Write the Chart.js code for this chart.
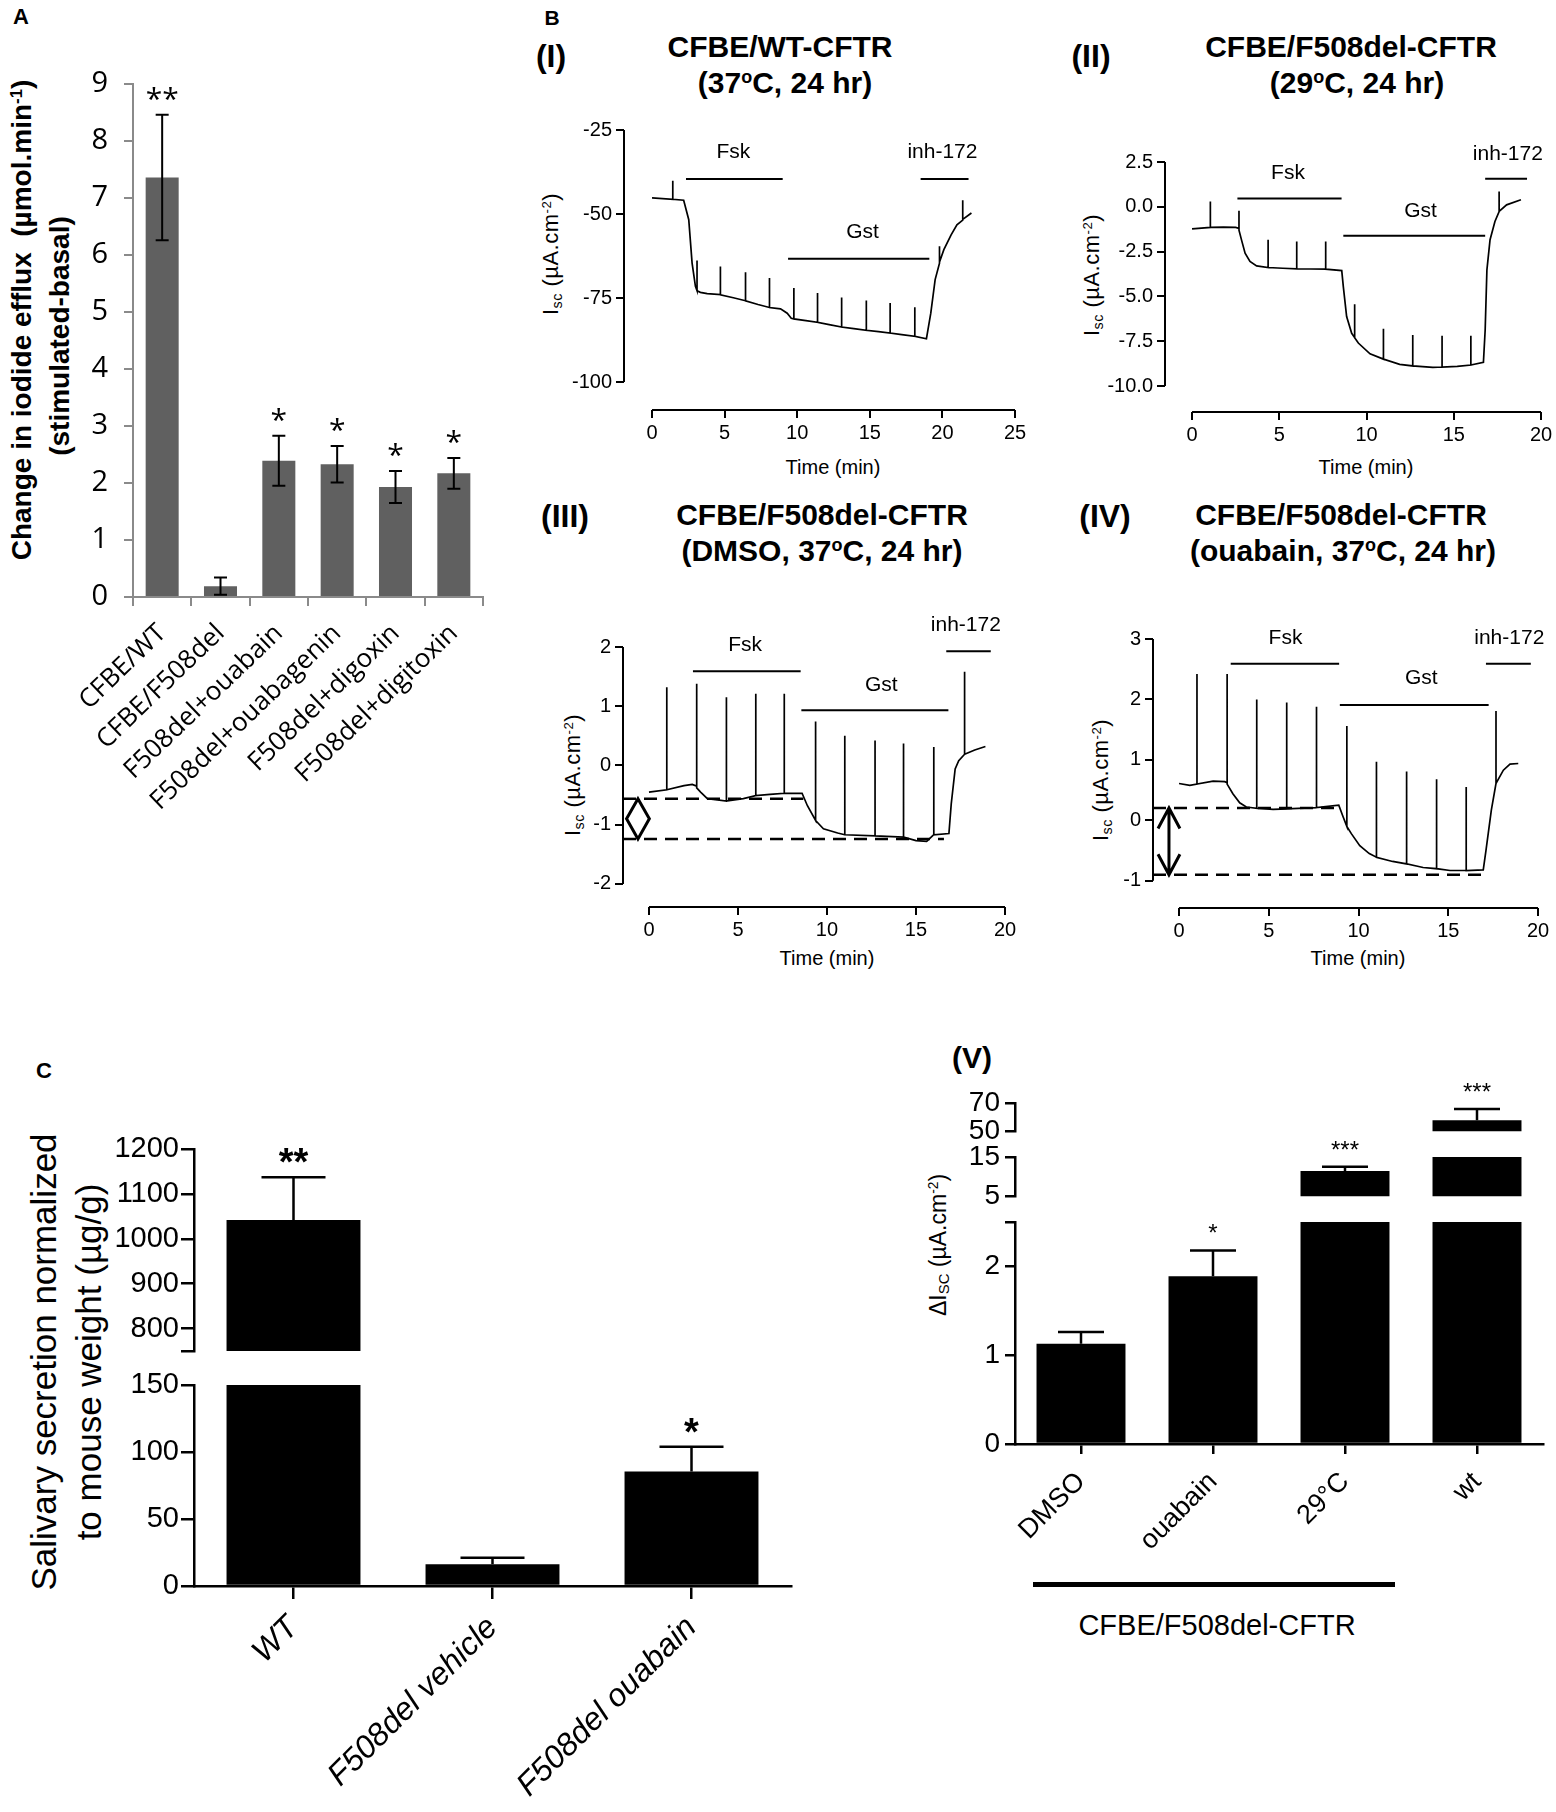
<!DOCTYPE html>
<html>
<head>
<meta charset="utf-8">
<script src="https://cdn.jsdelivr.net/npm/chart.js@4.4.1/dist/chart.umd.min.js"></script>
<style>
  body { margin: 0; background: #fff; }
  #fig { position: relative; width: 1556px; height: 1812px; overflow: hidden; background: #fff; }
  #fig canvas { position: absolute; }
  .t { position: absolute; transform: translate(-50%, -50%); white-space: nowrap; line-height: 1;
       font-family: "Liberation Sans", Arial, Helvetica, sans-serif; color: #000; }
  .r { transform: translate(-50%, -50%) rotate(-90deg); }
  .b { font-weight: bold; }
  .isc { font-size: 22px; letter-spacing: 0.5px; }
  sup { font-size: 0.6em; vertical-align: 0.55em; line-height: 0; }
  sub { font-size: 0.65em; vertical-align: -0.25em; line-height: 0; }
  .rule { position: absolute; background: #000; }
</style>
</head>
<body>
<div id="fig">
  <!-- panel A -->
  <div class="t b" style="left:21px;top:17px;font-size:22px">A</div>
  <div class="t b r" style="left:22px;top:320px;font-size:28px">Change in iodide efflux&nbsp;&nbsp;(µmol.min<sup>-1</sup>)</div>
  <div class="t b r" style="left:60px;top:336px;font-size:28px">(stimulated-basal)</div>

  <!-- panel B -->
  <div class="t b" style="left:552px;top:17px;font-size:21px">B</div>
  <div class="t b" style="left:551px;top:56px;font-size:32px">(I)</div>
  <div class="t b" style="left:780px;top:47px;font-size:30px">CFBE/WT-CFTR</div>
  <div class="t b" style="left:785px;top:83px;font-size:30px">(37<sup>o</sup>C, 24 hr)</div>
  <div class="t b" style="left:1091px;top:56px;font-size:32px">(II)</div>
  <div class="t b" style="left:1351px;top:47px;font-size:30px">CFBE/F508del-CFTR</div>
  <div class="t b" style="left:1357px;top:83px;font-size:30px">(29<sup>o</sup>C, 24 hr)</div>
  <div class="t b" style="left:565px;top:516px;font-size:32px">(III)</div>
  <div class="t b" style="left:822px;top:515px;font-size:30px">CFBE/F508del-CFTR</div>
  <div class="t b" style="left:822px;top:551px;font-size:30px">(DMSO, 37<sup>o</sup>C, 24 hr)</div>
  <div class="t b" style="left:1105px;top:516px;font-size:32px">(IV)</div>
  <div class="t b" style="left:1341px;top:515px;font-size:30px">CFBE/F508del-CFTR</div>
  <div class="t b" style="left:1343px;top:551px;font-size:30px">(ouabain, 37<sup>o</sup>C, 24 hr)</div>

  <div class="t r isc" style="left:551px;top:254px">I<sub>sc</sub> (µA.cm<sup>-2</sup>)</div>
  <div class="t r isc" style="left:1092px;top:275px">I<sub>sc</sub> (µA.cm<sup>-2</sup>)</div>
  <div class="t r isc" style="left:573px;top:775px">I<sub>sc</sub> (µA.cm<sup>-2</sup>)</div>
  <div class="t r isc" style="left:1101px;top:780px">I<sub>sc</sub> (µA.cm<sup>-2</sup>)</div>
  <div class="t" style="left:833px;top:467px;font-size:20px">Time (min)</div>
  <div class="t" style="left:1366px;top:467px;font-size:20px">Time (min)</div>
  <div class="t" style="left:827px;top:958px;font-size:20px">Time (min)</div>
  <div class="t" style="left:1358px;top:958px;font-size:20px">Time (min)</div>

  <!-- panel C -->
  <div class="t b" style="left:44px;top:1071px;font-size:22px">C</div>
  <div class="t r" style="left:43px;top:1362px;font-size:35px">Salivary secretion normalized</div>
  <div class="t r" style="left:88px;top:1362px;font-size:35px">to mouse weight (µg/g)</div>

  <!-- panel V -->
  <div class="t b" style="left:972px;top:1058px;font-size:30px">(V)</div>
  <div class="t r" style="left:938px;top:1245px;font-size:23px">ΔI<sub>SC</sub> (µA.cm<sup>-2</sup>)</div>
  <div class="rule" style="left:1033px;top:1582px;width:362px;height:5px"></div>
  <div class="t" style="left:1217px;top:1625px;font-size:29px">CFBE/F508del-CFTR</div>
</div>

<script>
// ---------- data ----------
// A: iodide efflux
const effluxCats = ["CFBE/WT", "CFBE/F508del", "F508del+ouabain", "F508del+ouabagenin", "F508del+digoxin", "F508del+digitoxin"];
const effluxMean = [7.36, 0.19, 2.39, 2.33, 1.93, 2.17];
const effluxErr = [1.1, 0.15, 0.44, 0.32, 0.28, 0.27];
const effluxStars = ["**", "", "*", "*", "*", "*"];
const effluxTicks = [0, 1, 2, 3, 4, 5, 6, 7, 8, 9];

// B: short-circuit current traces, [time (min), Isc]
const traceI = [[0,-45.2],[1.43,-45.6],[1.43,-40.1],[1.43,-45.6],[2.18,-45.9],[2.53,-51.7],[2.76,-64.6],[2.99,-71.5],[3.1,-72.8],[3.1,-63.8],[3.1,-72.8],
  [3.33,-73.3],[3.8,-73.7],[4.71,-74],[4.71,-65.6],[4.71,-74],[5.6,-74.9],[6.44,-75.8],[6.44,-67.3],[6.44,-75.8],[7.3,-76.9],[8.09,-77.8],[8.09,-69],[8.09,-77.8],
  [8.85,-78.2],[9.31,-79.5],[9.59,-81],[9.77,-81.2],[9.77,-72],[9.77,-81.2],[10.6,-81.7],[11.4,-82.2],[11.4,-73.5],[11.4,-82.2],[12.2,-82.9],
  [13.06,-83.6],[13.06,-74.8],[13.06,-83.6],[13.9,-84.1],[14.76,-84.6],[14.76,-75.7],[14.76,-84.6],[15.6,-85],[16.4,-85.4],[16.4,-76.5],[16.4,-85.4],
  [17.2,-85.9],[18.1,-86.4],[18.1,-77.7],[18.1,-86.4],[18.9,-87.1],[19.2,-79.5],[19.5,-69.5],[19.8,-64.6],[19.8,-59.6],[19.8,-64.3],[20.1,-60.6],
  [20.6,-56.2],[21.0,-53.2],[21.4,-51.8],[21.4,-45.9],[21.4,-51.6],[22.0,-49.7]];
const traceII = [[0,-1.23],[1.05,-1.15],[1.05,0.3],[1.05,-1.15],[1.8,-1.13],[2.5,-1.15],[2.69,-1.2],[2.69,-0.22],[2.69,-1.3],[2.85,-1.9],[3.04,-2.59],
  [3.32,-3.05],[3.7,-3.3],[4.36,-3.39],[4.36,-1.84],[4.36,-3.39],[5.2,-3.43],[6.0,-3.46],[6.0,-1.94],[6.0,-3.46],[6.8,-3.47],[7.66,-3.48],[7.66,-1.94],
  [7.66,-3.48],[8.58,-3.56],[8.67,-4.45],[8.86,-6.12],[9.15,-7.06],[9.32,-7.3],[9.32,-5.44],[9.32,-7.3],[9.53,-7.6],[10.2,-8.2],[10.97,-8.5],[10.97,-6.8],
  [10.97,-8.5],[11.9,-8.79],[12.65,-8.88],[12.65,-7.15],[12.65,-8.88],[13.8,-8.96],[14.33,-8.94],[14.33,-7.2],[14.33,-8.94],[15.2,-8.9],[15.98,-8.83],
  [15.98,-7.19],[15.98,-8.83],[16.7,-8.68],[16.8,-6.87],[16.9,-3.52],[17.08,-1.84],[17.36,-0.82],[17.6,-0.26],[17.6,0.86],[17.6,-0.26],[18.03,0.11],[18.85,0.39]];
const traceIII = [[0,-0.45],[1.0,-0.41],[1.0,1.32],[1.0,-0.41],[1.97,-0.34],[2.43,-0.32],[2.68,-0.35],[2.68,1.38],[2.68,-0.38],[2.9,-0.45],[3.28,-0.56],
  [4.35,-0.6],[4.35,1.15],[4.35,-0.6],[5.3,-0.56],[6.0,-0.51],[6.0,1.21],[6.0,-0.51],[6.8,-0.49],[7.6,-0.47],[7.6,1.21],[7.6,-0.47],[8.6,-0.47],
  [8.9,-0.68],[9.36,-0.93],[9.36,0.74],[9.36,-0.93],[9.8,-1.07],[10.6,-1.14],[11.0,-1.17],[11.0,0.5],[11.0,-1.17],[12.7,-1.19],[12.7,0.42],[12.7,-1.19],
  [14.3,-1.21],[14.3,0.37],[14.3,-1.21],[15.0,-1.27],[15.6,-1.28],[16.0,-1.17],[16.0,0.31],[16.0,-1.17],[16.85,-1.15],[16.98,-0.65],[17.2,-0.06],
  [17.4,0.08],[17.73,0.19],[17.73,1.58],[17.73,0.19],[18.3,0.26],[18.9,0.32]];
const traceIV = [[0,0.61],[0.6,0.58],[1.0,0.6],[1.0,2.42],[1.0,0.6],[1.9,0.65],[2.55,0.64],[2.68,0.62],[2.68,2.42],[2.68,0.6],[3.0,0.44],[3.38,0.29],
  [3.75,0.22],[4.33,0.2],[4.33,2.0],[4.33,0.2],[5.24,0.18],[6.0,0.19],[6.0,1.95],[6.0,0.19],[7.66,0.21],[7.66,1.88],[7.66,0.21],[8.9,0.25],[9.14,0.06],
  [9.35,-0.1],[9.35,1.56],[9.35,-0.1],[9.6,-0.22],[10.07,-0.42],[10.6,-0.55],[11.0,-0.61],[11.0,0.97],[11.0,-0.61],[11.9,-0.68],[12.68,-0.72],[12.68,0.81],
  [12.68,-0.72],[13.6,-0.78],[14.35,-0.8],[14.35,0.68],[14.35,-0.8],[15.1,-0.83],[16.0,-0.83],[16.0,0.55],[16.0,-0.83],[16.95,-0.82],[17.1,-0.5],
  [17.4,0.17],[17.66,0.61],[17.66,1.81],[17.66,0.61],[18.07,0.83],[18.44,0.93],[18.9,0.94]];

// drug application bars: [label, start, end, level, labelTime, labelLevel]
const drugsI = [["Fsk", 2.34, 9.0, -39.6, 5.6, -31.5], ["Gst", 9.37, 19.1, -63.3, 14.5, -55.3], ["inh-172", 18.5, 21.8, -39.6, 20.0, -31.5]];
const drugsII = [["Fsk", 2.6, 8.57, 0.47, 5.5, 1.88], ["Gst", 8.67, 16.8, -1.62, 13.1, -0.22], ["inh-172", 16.8, 19.2, 1.56, 18.1, 2.96]];
const drugsIII = [["Fsk", 2.47, 8.52, 1.59, 5.4, 2.03], ["Gst", 8.56, 16.82, 0.93, 13.05, 1.35], ["inh-172", 16.7, 19.2, 1.93, 17.8, 2.37]];
const drugsIV = [["Fsk", 2.88, 8.92, 2.59, 5.93, 3.02], ["Gst", 8.96, 17.25, 1.91, 13.5, 2.35], ["inh-172", 17.1, 19.6, 2.59, 18.4, 3.02]];
// dashed reference levels: [level, end time]
const dashIII = [[-0.563, 8.67], [-1.24, 16.57]];
const dashIV = [[0.205, 9.05], [-0.9, 16.95]];

const ticksI = { x: [0, 5, 10, 15, 20, 25], y: [-100, -75, -50, -25] };
const ticksII = { x: [0, 5, 10, 15, 20], y: [-10, -7.5, -5, -2.5, 0, 2.5] };
const ticksIII = { x: [0, 5, 10, 15, 20], y: [-2, -1, 0, 1, 2] };
const ticksIV = { x: [0, 5, 10, 15, 20], y: [-1, 0, 1, 2, 3] };

// C: salivary secretion
const salivaCats = ["WT", "F508del vehicle", "F508del ouabain"];
const salivaMean = [1042, 16.3, 85.4];
const salivaErr = [95, 4.7, 18.6];
const salivaStars = ["**", "", "*"];
const salivaTicksHigh = [750, 800, 900, 1000, 1100, 1200];
const salivaTicksLow = [0, 50, 100, 150];

// V: delta Isc
const dIscCats = ["DMSO", "ouabain", "29°C", "wt"];
const dIscMean = [1.13, 1.89, 11.4, 57.7];
const dIscErr = [0.13, 0.29, 1.1, 8.1];
const dIscStars = ["", "*", "***", "***"];
const dIscTicksTop = [50, 70];
const dIscTicksMid = [5, 15];
const dIscTicksLow = [0, 1, 2, 2.5];

// ---------- helpers ----------
const FONT = '"Liberation Sans", Arial, Helvetica, sans-serif';
const SOFT = '"Open Sans", "DejaVu Sans", sans-serif';
Chart.defaults.color = '#000';
Chart.defaults.font.family = FONT;
Chart.defaults.animation = false;
Chart.defaults.responsive = false;
Chart.defaults.maintainAspectRatio = false;
Chart.defaults.plugins.legend.display = false;
Chart.defaults.plugins.tooltip.enabled = false;

const fig = document.getElementById('fig');

// area = [left, top, right, bottom] of the plot area in page px; m = [top, right, bottom, left] margins
function makeCanvas(area, m) {
  const c = document.createElement('canvas');
  const w = area[2] - area[0] + m[1] + m[3];
  const h = area[3] - area[1] + m[0] + m[2];
  c.width = w; c.height = h;
  c.style.left = (area[0] - m[3]) + 'px';
  c.style.top = (area[1] - m[0]) + 'px';
  c.style.width = w + 'px';
  c.style.height = h + 'px';
  fig.appendChild(c);
  return c;
}

function fixedTicks(vals) {
  return s => { s.ticks = vals.map(v => ({ value: v })); };
}

function tracePlugin(o) {
  return {
    id: 'traceDeco',
    afterDatasetsDraw(chart) {
      const { ctx, scales: { x, y } } = chart;
      ctx.save();
      ctx.strokeStyle = '#000';
      ctx.lineWidth = 2;
      ctx.beginPath();
      ctx.moveTo(x.left, y.getPixelForValue(o.yt[0]));
      ctx.lineTo(x.left, y.getPixelForValue(o.yt[o.yt.length - 1]));
      ctx.moveTo(x.getPixelForValue(o.xt[0]), y.bottom);
      ctx.lineTo(x.getPixelForValue(o.xt[o.xt.length - 1]), y.bottom);
      ctx.stroke();

      ctx.fillStyle = '#000';
      ctx.font = '21px ' + FONT;
      ctx.textAlign = 'center';
      ctx.textBaseline = 'middle';
      o.drugs.forEach(d => ctx.fillText(d[0], x.getPixelForValue(d[4]), y.getPixelForValue(d[5])));

      if (o.arrow) {
        const a = o.arrow;
        const cx = x.getPixelForValue(a.t);
        const y1 = y.getPixelForValue(a.top), y2 = y.getPixelForValue(a.bottom);
        const hw = x.getPixelForValue(a.t + a.hw) - cx;
        ctx.lineWidth = 3;
        ctx.beginPath();
        if (a.kind === 'diamond') {
          const ym = (y1 + y2) / 2;
          ctx.moveTo(cx, y1); ctx.lineTo(cx - hw, ym); ctx.lineTo(cx, y2); ctx.lineTo(cx + hw, ym); ctx.closePath();
        } else {
          const hl = y.getPixelForValue(a.top - a.hl) - y1;
          ctx.moveTo(cx, y1); ctx.lineTo(cx, y2);
          ctx.moveTo(cx - hw, y1 + hl); ctx.lineTo(cx, y1); ctx.lineTo(cx + hw, y1 + hl);
          ctx.moveTo(cx - hw, y2 - hl); ctx.lineTo(cx, y2); ctx.lineTo(cx + hw, y2 - hl);
        }
        ctx.stroke();
      }
      ctx.restore();
    }
  };
}

function traceChart(area, m, o) {
  const cv = makeCanvas(area, m);
  const ds = [{ data: o.trace.map(p => ({ x: p[0], y: p[1] })), borderColor: '#000', borderWidth: 1.7, pointRadius: 0, tension: 0 }];
  o.drugs.forEach(d => ds.push({ data: [{ x: d[1], y: d[3] }, { x: d[2], y: d[3] }], borderColor: '#000', borderWidth: 2, pointRadius: 0 }));
  (o.dash || []).forEach(d => ds.push({ data: [{ x: o.xmin, y: d[0] }, { x: d[1], y: d[0] }], borderColor: '#000', borderWidth: 2.5, borderDash: [13, 8], pointRadius: 0 }));
  const grid = { drawOnChartArea: false, tickLength: 8, lineWidth: 2, color: '#000' };
  return new Chart(cv, {
    type: 'line',
    data: { datasets: ds },
    options: {
      layout: { padding: { top: m[0], right: m[1], bottom: 0, left: 0 } },
      scales: {
        x: {
          type: 'linear', min: o.xmin, max: o.xt[o.xt.length - 1],
          afterBuildTicks: fixedTicks(o.xt), afterFit: s => { s.height = m[2]; },
          ticks: { font: { size: 20 }, padding: 3, autoSkip: false, callback: v => String(v) },
          grid: grid, border: { display: false }
        },
        y: {
          type: 'linear', min: o.ymin, max: o.yt[o.yt.length - 1],
          afterBuildTicks: fixedTicks(o.yt), afterFit: s => { s.width = m[3]; },
          ticks: { font: { size: 20 }, padding: 4, autoSkip: false, callback: o.yfmt || (v => String(v)) },
          grid: grid, border: { display: false }
        }
      }
    },
    plugins: [tracePlugin(o)]
  });
}

function errPlugin(o) {
  return {
    id: 'errBars',
    afterDatasetsDraw(chart) {
      const { ctx, chartArea: a, scales: { y } } = chart;
      const meta = chart.getDatasetMeta(0);
      ctx.save();
      ctx.beginPath();
      ctx.rect(a.left, a.top - 2, a.right - a.left, a.bottom - a.top + 4);
      ctx.clip();
      ctx.strokeStyle = '#000';
      ctx.lineWidth = o.elw;
      o.values.forEach((v, i) => {
        const px = meta.data[i].x;
        const hi = y.getPixelForValue(v + o.errs[i]);
        const lo = y.getPixelForValue(o.both ? v - o.errs[i] : v);
        ctx.beginPath();
        ctx.moveTo(px, lo); ctx.lineTo(px, hi);
        ctx.moveTo(px - o.cap / 2, hi); ctx.lineTo(px + o.cap / 2, hi);
        if (o.both) { ctx.moveTo(px - o.cap / 2, lo); ctx.lineTo(px + o.cap / 2, lo); }
        ctx.stroke();
      });
      ctx.restore();
      if (!o.stars) return;
      ctx.save();
      ctx.fillStyle = '#000';
      ctx.font = o.starFont;
      ctx.textAlign = 'center';
      ctx.textBaseline = 'alphabetic';
      o.values.forEach((v, i) => {
        const top = v + o.errs[i];
        if (!o.stars[i] || top < o.min || top > o.max) return;
        ctx.fillText(o.stars[i], meta.data[i].x, y.getPixelForValue(top) - o.starGap);
      });
      ctx.restore();
    }
  };
}

function barChart(area, m, o) {
  const cv = makeCanvas(area, m);
  const grid = { drawOnChartArea: false, tickLength: o.tl, lineWidth: o.lw, color: o.axis, offset: o.gridOffset };
  const xScale = {
    display: o.showX,
    ticks: { font: o.xfont, minRotation: o.rot, maxRotation: o.rot, autoSkip: false, padding: o.xpad },
    grid: grid, border: { color: o.axis, width: o.lw }
  };
  if (o.showX) xScale.afterFit = s => { s.height = m[2]; };
  return new Chart(cv, {
    type: 'bar',
    data: { labels: o.labels, datasets: [{ data: o.values, backgroundColor: o.color, barPercentage: o.bp, categoryPercentage: 1, clip: 0 }] },
    options: {
      layout: { padding: { top: m[0], right: m[1], bottom: o.showX ? 0 : m[2], left: 0 } },
      scales: {
        x: xScale,
        y: {
          min: o.min, max: o.max,
          afterBuildTicks: fixedTicks(o.ticks), afterFit: s => { s.width = m[3]; },
          ticks: { font: o.yfont, padding: o.ypad, autoSkip: false, callback: v => (o.hide || []).includes(v) ? '' : String(v) },
          grid: { drawOnChartArea: false, tickLength: o.tl, lineWidth: o.lw, color: o.axis },
          border: { color: o.axis, width: o.lw }
        }
      }
    },
    plugins: [errPlugin(o)]
  });
}

// ---------- panel A ----------
barChart([133, 84, 483, 597], [40, 20, 260, 133], {
  labels: effluxCats, values: effluxMean, errs: effluxErr, both: true, cap: 13, elw: 2,
  color: '#606060', bp: 0.566, min: 0, max: 9, ticks: effluxTicks,
  showX: true, rot: 44, xfont: { family: SOFT, size: 26 }, xpad: 12, gridOffset: true,
  yfont: { family: SOFT, size: 29 }, ypad: 16, tl: 9, lw: 2, axis: '#8a8a8a',
  stars: effluxStars, starFont: '30px ' + SOFT, starGap: 6
});

// ---------- panel B ----------
traceChart([624, 130, 1015, 410], [30, 30, 40, 70], {
  trace: traceI, drugs: drugsI, xt: ticksI.x, yt: ticksI.y, xmin: -1.93, ymin: -108.3
});
traceChart([1165, 162, 1541, 412], [40, 15, 40, 70], {
  trace: traceII, drugs: drugsII, xt: ticksII.x, yt: ticksII.y, xmin: -1.55, ymin: -11.45,
  yfmt: v => v.toFixed(1)
});
traceChart([623, 647, 1005, 907], [45, 30, 40, 60], {
  trace: traceIII, drugs: drugsIII, dash: dashIII, xt: ticksIII.x, yt: ticksIII.y, xmin: -1.46, ymin: -2.39,
  arrow: { kind: 'diamond', t: -0.62, top: dashIII[0][0], bottom: dashIII[1][0], hw: 0.64 }
});
traceChart([1153, 639, 1538, 908], [40, 18, 40, 60], {
  trace: traceIV, drugs: drugsIV, dash: dashIV, xt: ticksIV.x, yt: ticksIV.y, xmin: -1.45, ymin: -1.45,
  arrow: { kind: 'double', t: -0.56, top: dashIV[0][0], bottom: dashIV[1][0], hw: 0.61, hl: 0.34 }
});

// ---------- panel C (broken axis: two stacked charts) ----------
const cCommon = {
  labels: salivaCats, values: salivaMean, errs: salivaErr, both: false, cap: 64, elw: 2.5,
  color: '#000', bp: 0.673, gridOffset: false, rot: 45,
  xfont: { size: 32, style: 'italic' }, xpad: 10, yfont: { size: 29 }, ypad: 2, tl: 13, lw: 2.5, axis: '#000',
  stars: salivaStars, starFont: 'bold 38px ' + FONT, starGap: 2
};
barChart([194, 1149, 791, 1351], [40, 30, 20, 110], Object.assign({}, cCommon, {
  min: 750, max: 1200, ticks: salivaTicksHigh, hide: [750], showX: false
}));
barChart([194, 1385, 791, 1586], [22, 30, 226, 110], Object.assign({}, cCommon, {
  min: 0, max: 150, ticks: salivaTicksLow, showX: true
}));

// ---------- panel V (broken axis: three stacked charts) ----------
const vCommon = {
  labels: dIscCats, values: dIscMean, errs: dIscErr, both: false, cap: 46, elw: 2.5,
  color: '#000', bp: 0.674, gridOffset: false, rot: 45,
  xfont: { size: 27 }, xpad: 12, yfont: { size: 28 }, ypad: 5, tl: 10, lw: 2.5, axis: '#000',
  stars: dIscStars, starFont: '24px ' + FONT, starGap: 9
};
barChart([1015, 1103, 1543, 1133], [35, 13, 20, 100], Object.assign({}, vCommon, {
  min: 50, max: 70, ticks: dIscTicksTop, showX: false
}));
barChart([1015, 1157, 1543, 1198], [35, 13, 20, 100], Object.assign({}, vCommon, {
  min: 5, max: 15, ticks: dIscTicksMid, showX: false
}));
barChart([1015, 1222, 1543, 1444], [30, 13, 120, 100], Object.assign({}, vCommon, {
  min: 0, max: 2.5, ticks: dIscTicksLow, hide: [2.5], showX: true
}));
</script>
</body>
</html>
